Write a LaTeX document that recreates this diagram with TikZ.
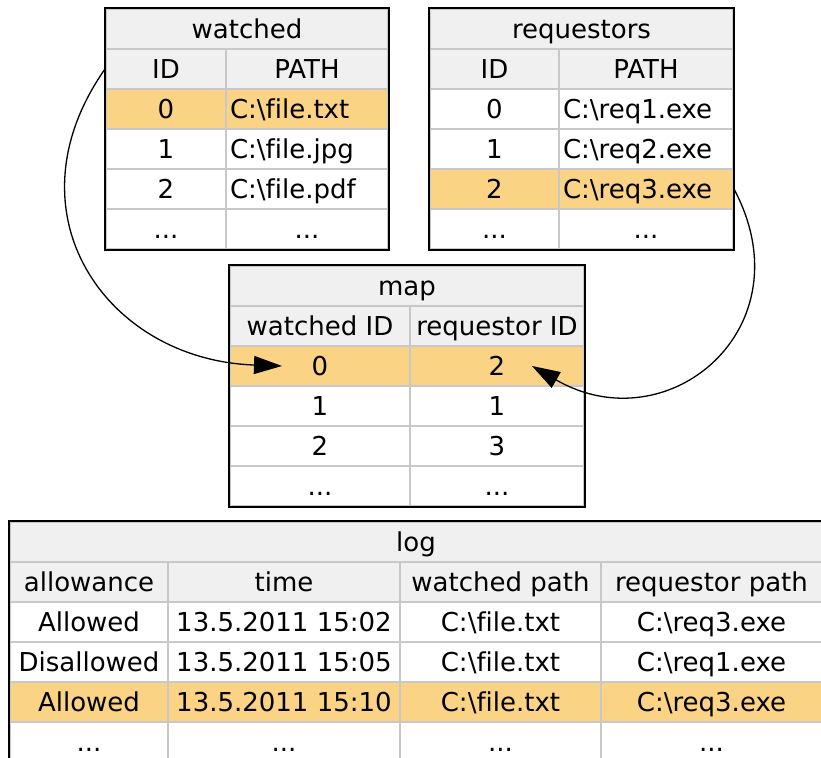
\documentclass[tikz,border=0pt]{standalone}
\usepackage{fontspec}
\setmainfont[Ligatures=NoCommon]{DejaVu Sans}
\usetikzlibrary{arrows.meta}

\definecolor{headgray}{HTML}{F0F0F0}
\definecolor{gridgray}{HTML}{C8C8C8}
\definecolor{hilite}{HTML}{FAD384}

\tikzset{
  cell/.style={draw=gridgray, line width=1pt, inner sep=0pt, minimum height=20pt,
               text height=9.5pt, text depth=0pt, font=\fontsize{13}{15}\selectfont},
  head/.style={cell, fill=headgray},
  hot/.style={cell, fill=hilite},
  pathcell/.style={inner xsep=2pt, align=left, text width=#1},
  tblframe/.style={draw=black, line width=1pt},
  link/.style={-{Triangle[length=14pt,width=9pt]}, line width=0.65pt},
}

\begin{document}
\begin{tikzpicture}[x=0.5pt, y=-0.5pt]

        \useasboundingbox (0,0) rectangle (821,758);
        \clip (0,0) rectangle (821,758);

        % watched
        \node[head, minimum width=141pt] (w-t)  at (247,29.5) {watched};
        \node[head, minimum width=60pt]  (w-h0) at (166,69)   {ID};
        \node[head, minimum width=81pt]  (w-h1) at (307,69)   {PATH};
        \node[hot,  minimum width=60pt]  (w-00) at (166,109)  {0};
        \node[hot,  pathcell=77pt]       (w-01) at (307,109)  {C:\textbackslash file.txt};
        \node[cell, minimum width=60pt]  (w-10) at (166,149)  {1};
        \node[cell, pathcell=77pt]       (w-11) at (307,149)  {C:\textbackslash file.jpg};
        \node[cell, minimum width=60pt]  (w-20) at (166,189)  {2};
        \node[cell, pathcell=77pt]       (w-21) at (307,189)  {C:\textbackslash file.pdf};
        \node[cell, minimum width=60pt]  (w-30) at (166,229)  {...};
        \node[cell, minimum width=81pt]  (w-31) at (307,229)  {...};
        \draw[tblframe] (w-t.north west) rectangle (w-31.south east);

        % requestors
        \node[head, minimum width=151.5pt] (r-t)  at (581.5,29.5) {requestors};
        \node[head, minimum width=64.5pt]  (r-h0) at (494.5,69)   {ID};
        \node[head, minimum width=87pt]    (r-h1) at (646,69)     {PATH};
        \node[cell, minimum width=64.5pt]  (r-00) at (494.5,109)  {0};
        \node[cell, pathcell=83pt]         (r-01) at (646,109)    {C:\textbackslash req1.exe};
        \node[cell, minimum width=64.5pt]  (r-10) at (494.5,149)  {1};
        \node[cell, pathcell=83pt]         (r-11) at (646,149)    {C:\textbackslash req2.exe};
        \node[hot,  minimum width=64.5pt]  (r-20) at (494.5,189)  {2};
        \node[hot,  pathcell=83pt]         (r-21) at (646,189)    {C:\textbackslash req3.exe};
        \node[cell, minimum width=64.5pt]  (r-30) at (494.5,229)  {...};
        \node[cell, minimum width=87pt]    (r-31) at (646,229)    {...};
        \draw[tblframe] (r-t.north west) rectangle (r-31.south east);

        % map
        \node[head, minimum width=177pt] (m-t)  at (407,286) {map};
        \node[head, minimum width=90pt]  (m-h0) at (320,326) {watched ID};
        \node[head, minimum width=87pt]  (m-h1) at (497,326) {requestor ID};
        \node[hot,  minimum width=90pt]  (m-00) at (320,366) {0};
        \node[hot,  minimum width=87pt]  (m-01) at (497,366) {2};
        \node[cell, minimum width=90pt]  (m-10) at (320,406) {1};
        \node[cell, minimum width=87pt]  (m-11) at (497,406) {1};
        \node[cell, minimum width=90pt]  (m-20) at (320,446) {2};
        \node[cell, minimum width=87pt]  (m-21) at (497,446) {3};
        \node[cell, minimum width=90pt]  (m-30) at (320,486) {...};
        \node[cell, minimum width=87pt]  (m-31) at (497,486) {...};
        \draw[tblframe] (m-t.north west) rectangle (m-31.south east);

        % log
        \node[head, minimum width=406pt]   (g-t)  at (416,542)   {log};
        \node[head, minimum width=79pt]    (g-h0) at (89,582)    {allowance};
        \node[head, minimum width=116pt]   (g-h1) at (284,582)   {time};
        \node[head, minimum width=100.5pt] (g-h2) at (500.5,582) {watched path};
        \node[head, minimum width=110.5pt] (g-h3) at (711.5,582) {requestor path};
        \node[cell, minimum width=79pt]    (g-00) at (89,622)    {Allowed};
        \node[cell, minimum width=116pt]   (g-01) at (284,622)   {13.5.2011 15:02};
        \node[cell, minimum width=100.5pt] (g-02) at (500.5,622) {C:\textbackslash file.txt};
        \node[cell, minimum width=110.5pt] (g-03) at (711.5,622) {C:\textbackslash req3.exe};
        \node[cell, minimum width=79pt]    (g-10) at (89,662)    {Disallowed};
        \node[cell, minimum width=116pt]   (g-11) at (284,662)   {13.5.2011 15:05};
        \node[cell, minimum width=100.5pt] (g-12) at (500.5,662) {C:\textbackslash file.txt};
        \node[cell, minimum width=110.5pt] (g-13) at (711.5,662) {C:\textbackslash req1.exe};
        \node[hot,  minimum width=79pt]    (g-20) at (89,702)    {Allowed};
        \node[hot,  minimum width=116pt]   (g-21) at (284,702)   {13.5.2011 15:10};
        \node[hot,  minimum width=100.5pt] (g-22) at (500.5,702) {C:\textbackslash file.txt};
        \node[hot,  minimum width=110.5pt] (g-23) at (711.5,702) {C:\textbackslash req3.exe};
        \node[cell, minimum width=79pt]    (g-30) at (89,742)    {...};
        \node[cell, minimum width=116pt]   (g-31) at (284,742)   {...};
        \node[cell, minimum width=100.5pt] (g-32) at (500.5,742) {...};
        \node[cell, minimum width=110.5pt] (g-33) at (711.5,742) {...};
        \draw[tblframe] (g-t.north west) rectangle (g-33.south east);

        % links into map
        \draw[link] (w-h0.west) to[out=235, in=178, looseness=1.3] ([xshift=-19pt]m-00.center);
        \draw[link] (r-21.east) to[out=-62, in=330, looseness=1.5] ([xshift=17.5pt]m-01.center);

      \end{tikzpicture}
\end{document}
